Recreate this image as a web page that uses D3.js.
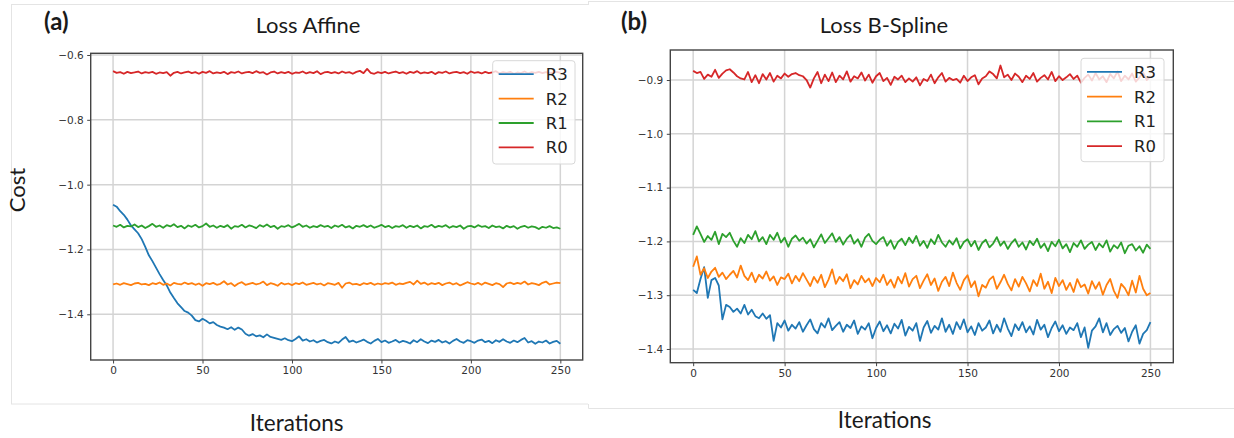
<!DOCTYPE html>
<html>
<head>
<meta charset="utf-8">
<script src="https://cdn.jsdelivr.net/npm/d3@7"></script>
<style>
  body { margin: 0; background: #fff; }
  svg { display: block; }
  .tick text { font-family: "DejaVu Sans", sans-serif; font-size: 10.5px; fill: #333; }
  .lbl { font-family: Lato, "Open Sans", sans-serif; fill: #1a1a1a; }
  .leg { font-family: "DejaVu Sans", sans-serif; font-size: 16.5px; fill: #222; }
</style>
</head>
<body>
<svg id="chart" width="1234" height="438"></svg>
<script>
// values sampled every 2 iterations (0..250)
const iterations = d3.range(0, 251, 2);
const seriesNames = ['R3', 'R2', 'R1', 'R0'];
const seriesColors = ['#1f77b4', '#ff7f0e', '#2ca02c', '#d62728'];
const ticksX = [0, 50, 100, 150, 200, 250];

// (a) Loss Affine
const affineR0 = [
  -0.650,-0.655,-0.653,-0.658,-0.652,-0.656,-0.654,-0.651,-0.657,-0.653,
  -0.655,-0.652,-0.658,-0.654,-0.656,-0.653,-0.664,-0.655,-0.652,-0.657,
  -0.654,-0.651,-0.656,-0.653,-0.658,-0.652,-0.655,-0.650,-0.657,-0.654,
  -0.656,-0.652,-0.659,-0.653,-0.655,-0.651,-0.657,-0.654,-0.652,-0.656,
  -0.650,-0.655,-0.653,-0.660,-0.654,-0.651,-0.657,-0.653,-0.656,-0.652,
  -0.658,-0.654,-0.655,-0.651,-0.657,-0.653,-0.656,-0.650,-0.659,-0.654,
  -0.652,-0.656,-0.653,-0.657,-0.651,-0.655,-0.653,-0.658,-0.652,-0.649,
  -0.656,-0.643,-0.655,-0.658,-0.653,-0.656,-0.652,-0.657,-0.654,-0.651,
  -0.656,-0.653,-0.658,-0.652,-0.655,-0.650,-0.657,-0.654,-0.656,-0.652,
  -0.659,-0.653,-0.655,-0.651,-0.657,-0.654,-0.652,-0.656,-0.653,-0.658,
  -0.651,-0.655,-0.653,-0.657,-0.652,-0.656,-0.654,-0.650,-0.657,-0.653,
  -0.655,-0.652,-0.658,-0.654,-0.656,-0.651,-0.657,-0.653,-0.655,-0.652,
  -0.656,-0.653,-0.657,-0.654,-0.652,-0.655
];
const affineR1 = [
  -1.126,-1.130,-1.124,-1.132,-1.127,-1.129,-1.123,-1.131,-1.126,-1.134,
  -1.128,-1.121,-1.130,-1.126,-1.133,-1.125,-1.129,-1.122,-1.131,-1.127,
  -1.135,-1.126,-1.130,-1.124,-1.132,-1.128,-1.120,-1.130,-1.126,-1.133,
  -1.127,-1.131,-1.125,-1.136,-1.128,-1.130,-1.124,-1.132,-1.126,-1.129,
  -1.134,-1.125,-1.130,-1.123,-1.131,-1.127,-1.136,-1.128,-1.130,-1.125,
  -1.132,-1.127,-1.121,-1.130,-1.126,-1.133,-1.128,-1.131,-1.125,-1.130,
  -1.127,-1.134,-1.126,-1.130,-1.124,-1.132,-1.128,-1.135,-1.127,-1.130,
  -1.125,-1.131,-1.126,-1.133,-1.129,-1.124,-1.131,-1.127,-1.134,-1.128,
  -1.130,-1.125,-1.133,-1.127,-1.131,-1.126,-1.135,-1.128,-1.130,-1.124,
  -1.132,-1.127,-1.130,-1.125,-1.133,-1.128,-1.131,-1.126,-1.136,-1.129,
  -1.127,-1.132,-1.125,-1.130,-1.128,-1.134,-1.126,-1.131,-1.129,-1.135,
  -1.127,-1.132,-1.128,-1.136,-1.130,-1.127,-1.133,-1.129,-1.131,-1.137,
  -1.130,-1.133,-1.128,-1.134,-1.132,-1.136
];
const affineR2 = [
  -1.308,-1.305,-1.309,-1.304,-1.307,-1.310,-1.305,-1.303,-1.308,-1.306,
  -1.310,-1.304,-1.307,-1.302,-1.309,-1.305,-1.311,-1.303,-1.306,-1.308,
  -1.302,-1.307,-1.304,-1.309,-1.305,-1.312,-1.304,-1.307,-1.303,-1.309,
  -1.306,-1.298,-1.308,-1.304,-1.313,-1.305,-1.301,-1.309,-1.306,-1.303,
  -1.308,-1.305,-1.299,-1.310,-1.304,-1.307,-1.312,-1.303,-1.308,-1.305,
  -1.310,-1.304,-1.307,-1.302,-1.309,-1.306,-1.303,-1.308,-1.305,-1.311,
  -1.304,-1.306,-1.309,-1.303,-1.318,-1.305,-1.302,-1.308,-1.306,-1.310,
  -1.304,-1.307,-1.303,-1.309,-1.305,-1.308,-1.304,-1.306,-1.302,-1.309,
  -1.305,-1.307,-1.303,-1.300,-1.308,-1.296,-1.306,-1.302,-1.309,-1.304,
  -1.307,-1.303,-1.310,-1.305,-1.302,-1.308,-1.304,-1.311,-1.306,-1.301,
  -1.305,-1.308,-1.303,-1.309,-1.302,-1.306,-1.310,-1.304,-1.307,-1.316,
  -1.305,-1.302,-1.307,-1.303,-1.306,-1.299,-1.308,-1.304,-1.306,-1.310,
  -1.303,-1.299,-1.308,-1.305,-1.302,-1.304
];
const affineR3 = [
  -1.062,-1.068,-1.082,-1.093,-1.108,-1.126,-1.138,-1.150,-1.168,-1.192,
  -1.218,-1.236,-1.256,-1.276,-1.294,-1.311,-1.333,-1.350,-1.366,-1.378,
  -1.390,-1.395,-1.404,-1.418,-1.422,-1.414,-1.420,-1.428,-1.424,-1.433,
  -1.438,-1.441,-1.446,-1.440,-1.448,-1.441,-1.447,-1.460,-1.466,-1.461,
  -1.468,-1.465,-1.471,-1.462,-1.470,-1.473,-1.476,-1.479,-1.474,-1.480,
  -1.483,-1.476,-1.468,-1.481,-1.477,-1.484,-1.480,-1.487,-1.482,-1.479,
  -1.486,-1.490,-1.484,-1.488,-1.478,-1.470,-1.485,-1.481,-1.487,-1.483,
  -1.478,-1.485,-1.490,-1.482,-1.476,-1.486,-1.481,-1.488,-1.484,-1.479,
  -1.487,-1.482,-1.485,-1.490,-1.480,-1.486,-1.477,-1.484,-1.489,-1.481,
  -1.485,-1.479,-1.487,-1.483,-1.490,-1.482,-1.476,-1.484,-1.488,-1.480,
  -1.483,-1.488,-1.481,-1.478,-1.486,-1.482,-1.489,-1.480,-1.485,-1.477,
  -1.484,-1.488,-1.481,-1.486,-1.479,-1.473,-1.487,-1.483,-1.491,-1.484,
  -1.487,-1.481,-1.490,-1.485,-1.482,-1.491
];
const affineTicksY = [-1.4, -1.2, -1.0, -0.8, -0.6];

// (b) Loss B-Spline
const splineR0 = [
  -0.883,-0.887,-0.885,-0.898,-0.890,-0.894,-0.881,-0.896,-0.888,-0.882,
  -0.880,-0.886,-0.893,-0.897,-0.899,-0.885,-0.904,-0.891,-0.906,-0.889,
  -0.899,-0.887,-0.903,-0.892,-0.897,-0.888,-0.894,-0.889,-0.887,-0.891,
  -0.893,-0.900,-0.914,-0.897,-0.885,-0.906,-0.890,-0.902,-0.886,-0.904,
  -0.892,-0.899,-0.884,-0.903,-0.893,-0.897,-0.886,-0.901,-0.890,-0.905,
  -0.893,-0.887,-0.902,-0.896,-0.909,-0.894,-0.899,-0.892,-0.904,-0.897,
  -0.903,-0.895,-0.910,-0.898,-0.902,-0.890,-0.906,-0.895,-0.887,-0.903,
  -0.896,-0.900,-0.898,-0.905,-0.892,-0.902,-0.895,-0.891,-0.908,-0.897,
  -0.893,-0.884,-0.889,-0.897,-0.873,-0.895,-0.890,-0.900,-0.888,-0.894,
  -0.904,-0.892,-0.898,-0.887,-0.903,-0.896,-0.891,-0.899,-0.885,-0.902,
  -0.893,-0.900,-0.895,-0.889,-0.898,-0.892,-0.905,-0.896,-0.890,-0.901,
  -0.887,-0.899,-0.893,-0.904,-0.889,-0.897,-0.884,-0.902,-0.892,-0.899,
  -0.888,-0.903,-0.895,-0.886,-0.900,-0.893
];
const splineR1 = [
  -1.188,-1.172,-1.186,-1.201,-1.190,-1.197,-1.182,-1.205,-1.186,-1.192,
  -1.184,-1.199,-1.210,-1.194,-1.203,-1.188,-1.196,-1.181,-1.200,-1.192,
  -1.205,-1.188,-1.197,-1.184,-1.202,-1.193,-1.210,-1.195,-1.189,-1.199,
  -1.193,-1.204,-1.196,-1.211,-1.199,-1.187,-1.203,-1.194,-1.185,-1.201,
  -1.192,-1.206,-1.195,-1.188,-1.204,-1.196,-1.210,-1.193,-1.186,-1.199,
  -1.205,-1.197,-1.192,-1.208,-1.198,-1.214,-1.201,-1.195,-1.207,-1.193,
  -1.203,-1.190,-1.208,-1.199,-1.212,-1.196,-1.205,-1.188,-1.202,-1.210,
  -1.198,-1.206,-1.194,-1.213,-1.201,-1.196,-1.209,-1.199,-1.216,-1.203,
  -1.197,-1.211,-1.204,-1.192,-1.208,-1.200,-1.214,-1.203,-1.196,-1.210,
  -1.202,-1.215,-1.199,-1.207,-1.195,-1.212,-1.204,-1.218,-1.201,-1.209,
  -1.197,-1.213,-1.205,-1.220,-1.203,-1.210,-1.198,-1.214,-1.206,-1.201,
  -1.216,-1.204,-1.211,-1.198,-1.219,-1.207,-1.213,-1.202,-1.222,-1.208,
  -1.205,-1.217,-1.209,-1.221,-1.206,-1.214
];
const splineR2 = [
  -1.247,-1.228,-1.262,-1.250,-1.268,-1.256,-1.249,-1.266,-1.258,-1.270,
  -1.262,-1.255,-1.267,-1.245,-1.264,-1.272,-1.258,-1.276,-1.262,-1.269,
  -1.256,-1.273,-1.265,-1.281,-1.267,-1.270,-1.260,-1.278,-1.264,-1.274,
  -1.259,-1.271,-1.283,-1.266,-1.277,-1.262,-1.285,-1.271,-1.252,-1.279,
  -1.266,-1.274,-1.261,-1.287,-1.272,-1.280,-1.264,-1.276,-1.269,-1.283,
  -1.268,-1.276,-1.262,-1.281,-1.271,-1.286,-1.266,-1.278,-1.259,-1.284,
  -1.270,-1.264,-1.287,-1.273,-1.261,-1.281,-1.269,-1.292,-1.275,-1.266,
  -1.283,-1.258,-1.277,-1.290,-1.272,-1.263,-1.285,-1.274,-1.302,-1.281,
  -1.286,-1.271,-1.265,-1.288,-1.276,-1.262,-1.279,-1.291,-1.270,-1.284,
  -1.266,-1.278,-1.293,-1.272,-1.283,-1.260,-1.288,-1.275,-1.296,-1.268,
  -1.283,-1.272,-1.290,-1.277,-1.294,-1.270,-1.285,-1.280,-1.297,-1.274,
  -1.288,-1.276,-1.299,-1.281,-1.270,-1.292,-1.305,-1.279,-1.287,-1.300,
  -1.273,-1.295,-1.264,-1.288,-1.300,-1.296
];
const splineR3 = [
  -1.290,-1.296,-1.270,-1.248,-1.305,-1.272,-1.268,-1.282,-1.345,-1.318,
  -1.322,-1.331,-1.325,-1.334,-1.318,-1.336,-1.327,-1.339,-1.343,-1.334,
  -1.344,-1.337,-1.385,-1.352,-1.360,-1.347,-1.366,-1.355,-1.362,-1.350,
  -1.368,-1.356,-1.345,-1.363,-1.371,-1.352,-1.360,-1.343,-1.365,-1.357,
  -1.350,-1.368,-1.355,-1.361,-1.347,-1.372,-1.358,-1.364,-1.352,-1.380,
  -1.361,-1.349,-1.367,-1.356,-1.371,-1.353,-1.362,-1.346,-1.375,-1.359,
  -1.366,-1.352,-1.385,-1.360,-1.348,-1.370,-1.357,-1.364,-1.343,-1.368,
  -1.355,-1.372,-1.350,-1.363,-1.345,-1.369,-1.358,-1.374,-1.352,-1.366,
  -1.360,-1.347,-1.371,-1.355,-1.368,-1.343,-1.362,-1.376,-1.354,-1.365,
  -1.350,-1.369,-1.358,-1.373,-1.346,-1.364,-1.355,-1.378,-1.361,-1.349,
  -1.367,-1.356,-1.372,-1.360,-1.365,-1.352,-1.378,-1.360,-1.398,-1.366,
  -1.358,-1.343,-1.369,-1.352,-1.374,-1.363,-1.357,-1.370,-1.361,-1.386,
  -1.368,-1.356,-1.390,-1.372,-1.365,-1.350
];
const splineTicksY = [-1.4, -1.3, -1.2, -1.1, -1.0, -0.9];

const svg = d3.select('#chart');

// faint borders of the two pasted images
svg.append('rect').attr('x', 11.5).attr('y', 4.5).attr('width', 600).attr('height', 399.5)
    .attr('fill', '#fff').attr('stroke', '#e4e4e4');
svg.append('rect').attr('x', 588).attr('y', 1).attr('width', 660).attr('height', 407)
    .attr('fill', '#fff');
svg.append('path')
    .attr('d', 'M588.5,1.5H1234M588.5,408.5H1234M588.5,1V5M588.5,404V408.5')
    .attr('stroke', '#e4e4e4').attr('fill', 'none');

function drawPanel(p) {
    const x = d3.scaleLinear().domain([-12.5, 262.5]).range([p.left, p.right]);
    const y = d3.scaleLinear().domain(p.yDomain).range([p.bottom, p.top]);
    const g = svg.append('g');

    // grid
    g.append('g').selectAll('line').data(ticksX).join('line')
        .attr('x1', (d) => x(d)).attr('x2', (d) => x(d))
        .attr('y1', p.top).attr('y2', p.bottom)
        .attr('stroke', '#d4d4d4').attr('stroke-width', 1.5);
    g.append('g').selectAll('line').data(p.yTicks).join('line')
        .attr('x1', p.left).attr('x2', p.right)
        .attr('y1', (d) => y(d)).attr('y2', (d) => y(d))
        .attr('stroke', '#d4d4d4').attr('stroke-width', 1.5);

    const clipId = 'clip-' + p.id;
    g.append('clipPath').attr('id', clipId).append('rect')
        .attr('x', p.left).attr('y', p.top)
        .attr('width', p.right - p.left).attr('height', p.bottom - p.top);

    const line = d3.line().x((d, i) => x(iterations[i])).y((d) => y(d));
    g.append('g').attr('clip-path', `url(#${clipId})`)
        .selectAll('path').data(p.series).join('path')
        .attr('d', line)
        .attr('fill', 'none')
        .attr('stroke', (d, i) => seriesColors[i])
        .attr('stroke-width', 1.8)
        .attr('stroke-linejoin', 'round');

    // axes frame
    g.append('rect')
        .attr('x', p.left).attr('y', p.top)
        .attr('width', p.right - p.left).attr('height', p.bottom - p.top)
        .attr('fill', 'none').attr('stroke', '#444').attr('stroke-width', 1.4);

    g.append('g').attr('transform', `translate(0,${p.bottom})`)
        .style('color', '#444')
        .call(d3.axisBottom(x).tickValues(ticksX).tickSize(3.5).tickPadding(3.5).tickFormat(d3.format('d')))
        .call((a) => a.select('.domain').remove());
    g.append('g').attr('transform', `translate(${p.left},0)`)
        .style('color', '#444')
        .call(d3.axisLeft(y).tickValues(p.yTicks).tickSize(3.5).tickPadding(3.5).tickFormat(d3.format('.1f')))
        .call((a) => a.select('.domain').remove());

    // legend
    const lg = g.append('g');
    lg.append('rect')
        .attr('x', p.legend.x).attr('y', p.legend.y)
        .attr('width', p.legend.w).attr('height', p.legend.h)
        .attr('rx', 3)
        .attr('fill', '#fff').attr('fill-opacity', 0.8)
        .attr('stroke', '#d8d8d8');
    const rows = lg.selectAll('g.row').data(seriesNames).join('g')
        .attr('class', 'row')
        .attr('transform', (d, i) => `translate(${p.legend.x},${p.legend.y + 13.5 + i * p.legend.step})`);
    rows.append('line')
        .attr('x1', 6).attr('x2', 41)
        .attr('stroke', (d, i) => seriesColors[i]).attr('stroke-width', 1.8);
    rows.append('text')
        .attr('class', 'leg')
        .attr('x', 53).attr('dy', '0.36em')
        .text((d) => d);

    // panel texts
    svg.append('text').attr('class', 'lbl').attr('x', p.tag.x).attr('y', p.tag.y)
        .style('font-size', '24px').style('font-weight', 'bold').text(p.tag.text);
    svg.append('text').attr('class', 'lbl').attr('x', p.title.x).attr('y', p.title.y)
        .attr('text-anchor', 'middle').style('font-size', '22px').text(p.title.text);
    svg.append('text').attr('class', 'lbl').attr('x', p.xlabel.x).attr('y', p.xlabel.y)
        .attr('text-anchor', 'middle').style('font-size', '22.5px').text('Iterations');
}

drawPanel({
    id: 'a',
    left: 90.7, right: 582.7, top: 53.3, bottom: 360,
    yDomain: [-1.541, -0.5948],
    yTicks: affineTicksY,
    series: [affineR3, affineR2, affineR1, affineR0],
    legend: { x: 492.7, y: 60.7, w: 82.3, h: 103.3, step: 24.4 },
    tag: { x: 44, y: 29.5, text: '(a)' },
    title: { x: 308, y: 32.5, text: 'Loss Affine' },
    xlabel: { x: 296.7, y: 430.7 },
});

drawPanel({
    id: 'b',
    left: 670.3, right: 1173.3, top: 50, bottom: 362.7,
    yDomain: [-1.4255, -0.8442],
    yTicks: splineTicksY,
    series: [splineR3, splineR2, splineR1, splineR0],
    legend: { x: 1081, y: 58.3, w: 83, h: 103.4, step: 24.8 },
    tag: { x: 621, y: 30, text: '(b)' },
    title: { x: 884, y: 33, text: 'Loss B-Spline' },
    xlabel: { x: 884.7, y: 428.3 },
});

// y label only on the left panel
svg.append('text').attr('class', 'lbl')
    .attr('transform', 'translate(25,190) rotate(-90)')
    .attr('text-anchor', 'middle').style('font-size', '22px')
    .text('Cost');
</script>
</body>
</html>
